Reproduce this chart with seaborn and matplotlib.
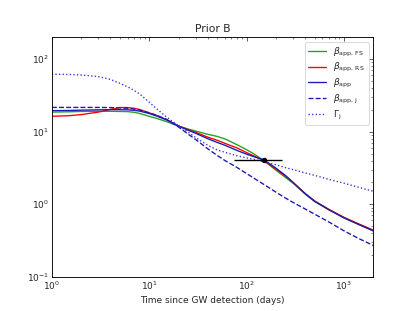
import numpy as np
import pandas as pd
import matplotlib
matplotlib.use("Agg")
import matplotlib.pyplot as plt
import seaborn as sns

sns.set_style("white")

t_days = [1, 1.5, 2, 3, 4, 5, 6, 7, 8, 10, 12, 15, 20, 25, 30, 40, 50, 60, 80,
          100, 120, 150, 200, 250, 300, 400, 500, 700, 1000, 1400, 2000]

beta_fs = [18.6, 18.8, 19.0, 19.1, 19.1, 19.0, 18.9, 18.5, 17.8, 16.3, 15.2, 13.8, 11.9, 10.9, 10.2, 9.2, 8.6, 7.95, 6.6,
           5.65, 4.9, 4.0, 2.95, 2.35, 1.95, 1.38, 1.09, 0.84, 0.65, 0.53, 0.43]
beta_rs = [16.3, 16.6, 17.2, 18.6, 20.3, 21.5, 21.5, 21.0, 20.2, 18.2, 16.6, 14.7, 12.0, 10.7, 9.8, 8.4, 7.6, 6.9, 5.95,
           5.15, 4.6, 4.0, 3.05, 2.45, 2.0, 1.4, 1.11, 0.85, 0.66, 0.54, 0.44]
beta_app = [19.5, 19.6, 19.8, 20.0, 20.1, 20.1, 20.0, 19.7, 19.2, 17.8, 16.4, 14.6, 12.0, 10.5, 9.5, 8.0, 7.1, 6.5, 5.5,
            4.9, 4.5, 4.1, 3.15, 2.5, 2.0, 1.4, 1.1, 0.84, 0.65, 0.53, 0.43]
beta_j = [21.6, 21.6, 21.6, 21.6, 21.5, 21.3, 21.0, 20.5, 19.8, 18.2, 16.8, 14.8, 11.6, 9.3, 7.8, 5.8, 4.7, 4.0, 3.2,
          2.65, 2.27, 1.88, 1.47, 1.22, 1.06, 0.86, 0.73, 0.57, 0.43, 0.34, 0.27]
gamma_j = [62, 61.5, 60.5, 57.5, 52.5, 46.5, 41.5, 37, 33, 25.5, 20.5, 16, 12, 9.9, 8.3, 6.5, 5.6, 5.2, 4.65,
           4.35, 4.15, 3.85, 3.5, 3.2, 3.0, 2.7, 2.5, 2.2, 1.95, 1.72, 1.51]

obs_t = [150]
obs_beta = [4.1]
obs_t_lo = [75]
obs_t_hi = [230]

series = [
    ("$\\beta_{\\rm app,\\,FS}$", beta_fs, "#22a022", "-"),
    ("$\\beta_{\\rm app,\\,RS}$", beta_rs, "#ff0000", "-"),
    ("$\\beta_{\\rm app}$", beta_app, "#1a1ab4", "-"),
    ("$\\beta_{\\rm app,\\,j}$", beta_j, "#1a1ab4", "--"),
    ("$\\Gamma_{\\rm j}$", gamma_j, "#3333dd", ":"),
]

fig, ax = plt.subplots(figsize=(6.4, 4.8), dpi=64.8)

for label, vals, color, ls in series:
    df = pd.DataFrame({"t": t_days, "v": vals})
    sns.lineplot(data=df, x="t", y="v", ax=ax, color=color, linestyle=ls,
                 label=label, linewidth=1.5)

ax.errorbar(obs_t, obs_beta,
            xerr=[[obs_t[0] - obs_t_lo[0]], [obs_t_hi[0] - obs_t[0]]],
            fmt="o", color="black", markersize=5, linewidth=1.5, zorder=5)

ax.set_xscale("log")
ax.set_yscale("log")
ax.set_xlim(1, 2000)
ax.set_ylim(0.1, 200)
ax.set_xlabel("Time since GW detection (days)")
ax.set_ylabel("")
ax.set_title("Prior B")
ax.tick_params(which="both", direction="in", top=True, right=True)
ax.tick_params(which="major", length=4)
ax.tick_params(which="minor", length=2)
for s in ax.spines.values():
    s.set_color("black")
    s.set_linewidth(1.0)
ax.legend(loc="upper right", fontsize=10, labelspacing=0.3)

fig.savefig("out.png", dpi=64.8)
